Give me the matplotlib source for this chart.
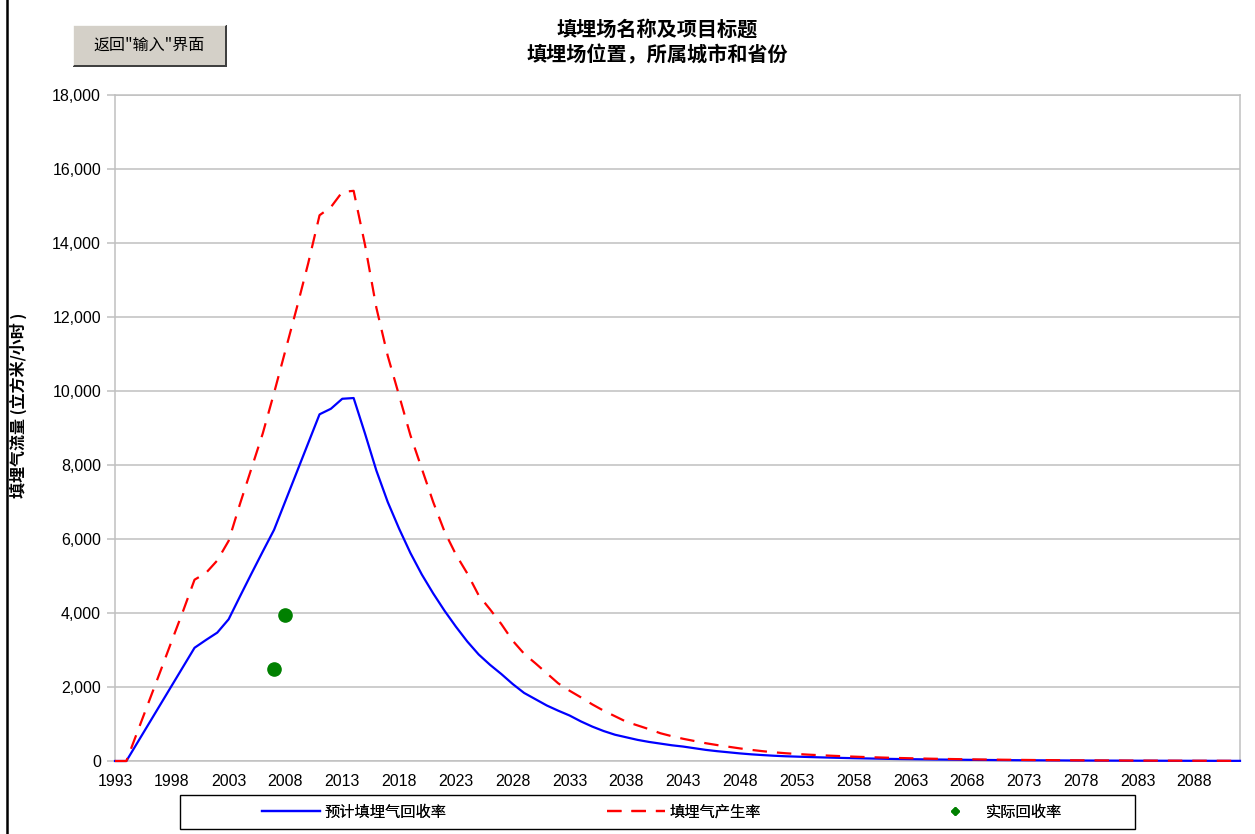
import matplotlib
matplotlib.use("Agg")
import matplotlib.pyplot as plt
from matplotlib.lines import Line2D
from matplotlib.patches import Rectangle
from matplotlib.ticker import FuncFormatter, MultipleLocator
import numpy as np

CJK = ['Noto Sans CJK SC', 'DejaVu Sans']
plt.rcParams['font.family'] = ['Liberation Sans', 'Noto Sans CJK SC', 'DejaVu Sans']

years = np.arange(1993, 2093)

# predicted LFG recovery (m3/h), one value per year 1993..2092
recovery = [
    0, 0, 510, 1020, 1530, 2040, 2550, 3060, 3270, 3470,
    3830, 4450, 5060, 5660, 6250, 7030, 7810, 8590, 9370, 9520,
    9790, 9810, 8850, 7850, 7000, 6280, 5620, 5040, 4530, 4060,
    3630, 3230, 2880, 2600, 2350, 2080, 1840, 1670, 1500, 1360,
    1230, 1070, 930, 810, 710, 640, 570, 515, 470, 425,
    390, 345, 300, 265, 235, 205, 180, 160, 142, 128,
    118, 108, 99, 91, 83, 76, 70, 64, 58, 53,
    49, 45, 41, 38, 35, 32, 29, 27, 24, 22,
    20, 19, 17, 16, 14, 13, 12, 11, 10, 9,
    8, 8, 7, 6, 6, 5, 5, 4, 4, 4,
]

# LFG generation (m3/h)
generation = [
    0, 0, 810, 1620, 2430, 3250, 4060, 4900, 5080, 5420,
    5950, 6950, 7900, 8850, 9950, 11100, 12250, 13450, 14750, 14970,
    15380, 15410, 13950, 12250, 10950, 9880, 8800, 7900, 7000, 6200,
    5580, 5070, 4480, 4100, 3700, 3250, 2900, 2640, 2370, 2100,
    1900, 1720, 1530, 1360, 1210, 1060, 960, 860, 750, 670,
    600, 540, 480, 430, 385, 340, 300, 265, 235, 210,
    190, 172, 157, 143, 130, 118, 107, 98, 89, 81,
    74, 67, 61, 56, 51, 46, 42, 38, 35, 32,
    29, 26, 24, 22, 20, 18, 16, 15, 14, 12,
    11, 10, 9, 9, 8, 7, 7, 6, 5, 5,
]

# actual recovery points
actual_years = [2007, 2008]
actual_vals = [2480, 3950]

W, H = 1255, 834
fig = plt.figure(figsize=(W / 100, H / 100), dpi=100)
ax = fig.add_axes([115 / W, 1 - 761 / H, (1240 - 115) / W, (761 - 95) / H])

ax.plot(years, recovery, color='#0000ff', lw=1.6, clip_on=False, zorder=3)
red, = ax.plot(years, generation, color='#ff0000', lw=1.6, clip_on=False, zorder=3)
red.set_dashes((6.5, 4.5))
ax.plot(actual_years, actual_vals, 'o', color='#008000', ms=9.5, zorder=4)

ax.set_xlim(1993, 2092)
ax.set_ylim(0, 18000)
ax.xaxis.set_major_locator(MultipleLocator(5, offset=3))
ax.xaxis.set_minor_locator(MultipleLocator(10, offset=3))
ax.yaxis.set_major_locator(MultipleLocator(2000))
ax.yaxis.set_major_formatter(FuncFormatter(lambda v, p: f"{int(v):,}"))

ax.grid(True, which='minor', axis='x', color='#c0c0c0', lw=1.1)
ax.grid(True, which='major', axis='y', color='#c0c0c0', lw=1.1)
ax.set_axisbelow(True)
for s in ax.spines.values():
    s.set_color('#c0c0c0')
    s.set_linewidth(1.1)

ax.tick_params(axis='x', which='major', length=0, pad=9, labelsize=11.5, colors='black')
ax.tick_params(axis='x', which='minor', length=5, color='#c0c0c0', width=1.1)
ax.tick_params(axis='y', length=6, color='#c0c0c0', width=1.1, pad=4, labelsize=11.5)

# titles
fig.text(657 / W, 1 - 29 / H, '填埋场名称及项目标题', ha='center', va='center',
         fontsize=14.5, fontweight='bold', family=CJK)
fig.text(657 / W, 1 - 55 / H, '填埋场位置，所属城市和省份', ha='center', va='center',
         fontsize=14.5, fontweight='bold', family=CJK)

# y label
fig.text(18 / W, 1 - 405 / H, '填埋气流量 (立方米/小时 )', rotation=90, ha='center',
         va='center', fontsize=11.5, fontweight='bold', family=CJK)

# button
fig.add_artist(Rectangle((73 / W, 1 - 67 / H), 154 / W, 42 / H, transform=fig.transFigure,
                         facecolor='#404040', edgecolor='none'))
fig.add_artist(Rectangle((73 / W, 1 - 65 / H), 152 / W, 40 / H, transform=fig.transFigure,
                         facecolor='#d4d0c8', edgecolor='none'))
fig.add_artist(Line2D([73 / W, 73 / W, 225 / W], [1 - 65 / H, 1 - 25 / H, 1 - 25 / H],
                      transform=fig.transFigure, color='white', lw=1.2))
fig.text(149 / W, 1 - 45 / H, '返回"输入"界面', ha='center', va='center', fontsize=11.5, family=CJK)

# left window border
fig.add_artist(Line2D([7 / W, 7 / W], [0, 1], transform=fig.transFigure, color='black', lw=1.8))

# legend box
fig.add_artist(Rectangle((180 / W, 1 - 829 / H), 955 / W, 34 / H, transform=fig.transFigure,
                         facecolor='white', edgecolor='black', lw=1.0))
h1 = Line2D([], [], color='#0000ff', lw=1.6)
h2 = Line2D([], [], color='#ff0000', lw=1.6, dashes=(6.5, 4.5))
h3 = Line2D([], [], color='#008000', marker='D', ls='none', ms=4)
items = [(h1, '预计填埋气回收率', 262, 3.8), (h2, '填埋气产生率', 607, 3.8), (h3, '实际回收率', 940, 2.0)]
for h, lab, x0, hl in items:
    lg = fig.legend(handles=[h], labels=[lab], loc='center left',
                    bbox_to_anchor=(x0 / W, 1 - 812 / H), frameon=False,
                    handlelength=hl, handletextpad=0.3 if h is not h3 else 1.0,
                    borderaxespad=0, borderpad=0, prop={'family': CJK, 'size': 11})
    fig.add_artist(lg)

fig.savefig('out.png', dpi=100)
